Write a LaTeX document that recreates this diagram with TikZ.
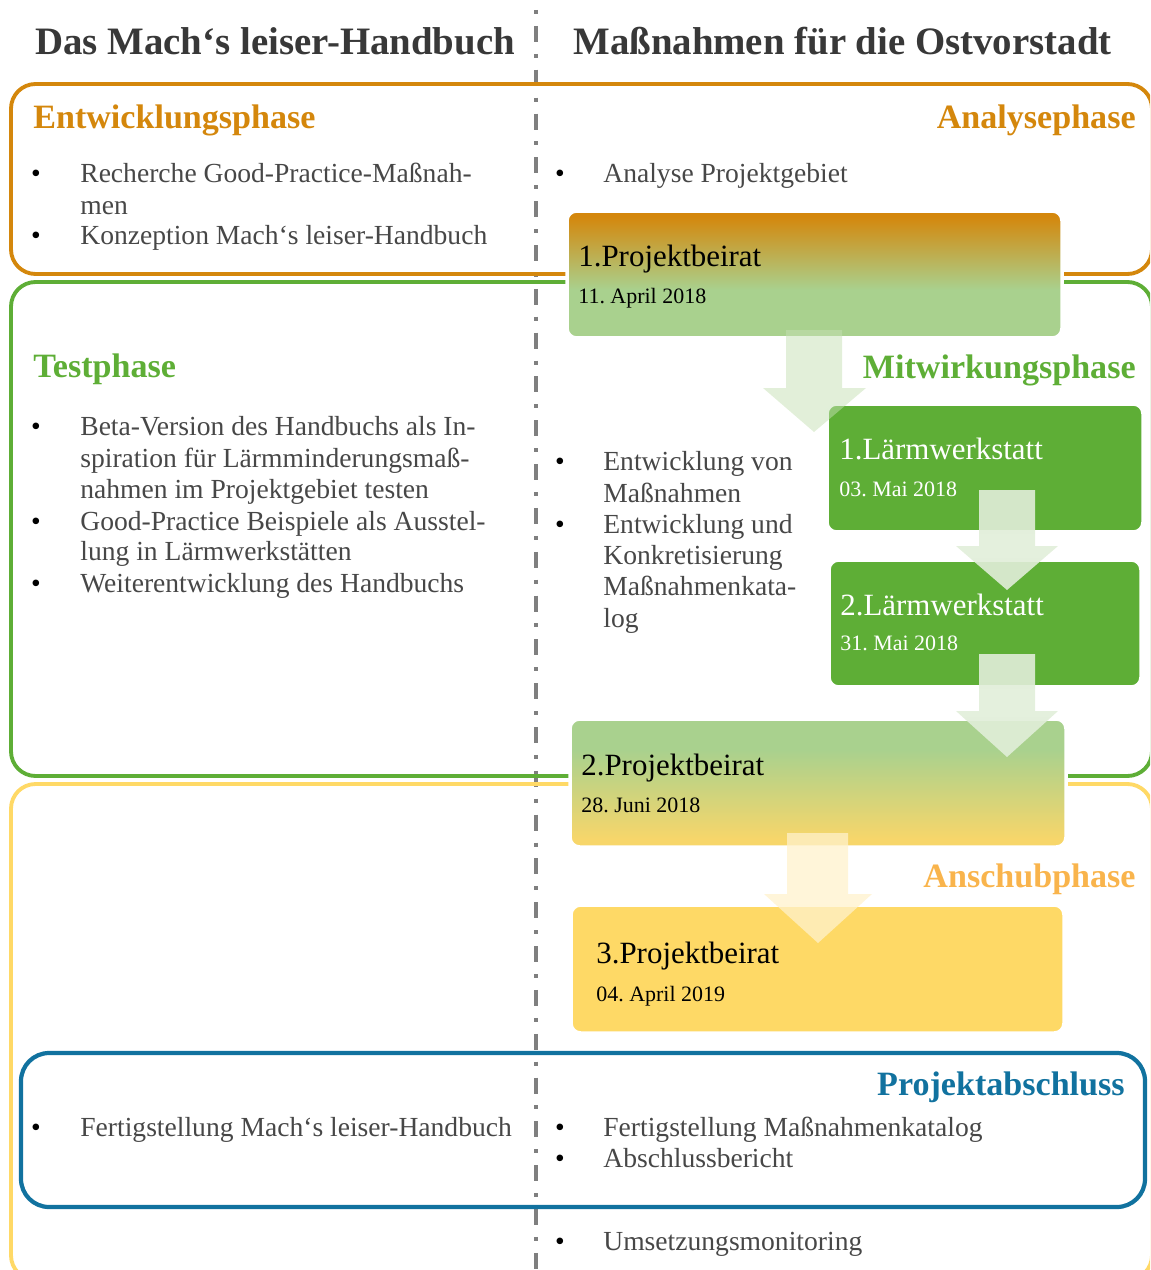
\documentclass[tikz,border=0pt]{standalone}
\usepackage{fontspec}
\setmainfont{Liberation Serif}
\usetikzlibrary{fit}
\frenchspacing
\definecolor{cOrange}{HTML}{D4870C}
\definecolor{cGreen}{HTML}{5EAE36}
\definecolor{cYellow}{HTML}{FFD966}
\definecolor{cAnschub}{HTML}{F9B44C}
\definecolor{cBlue}{HTML}{11729F}
\definecolor{cLGreen}{HTML}{A9D18E}
\definecolor{cBoxYellow}{HTML}{FED966}
\definecolor{cText}{HTML}{474747}
\definecolor{cTitle}{HTML}{383838}
\definecolor{cDash}{HTML}{7F7F7F}
\definecolor{cArrG}{HTML}{C5E0B4}
\definecolor{cArrGt}{HTML}{E1EED9}
\definecolor{cArrY}{HTML}{FFF2CC}
\definecolor{cBtwoY}{HTML}{F7D66A}
\pgfdeclareverticalshading{pbone}{100bp}{color(0bp)=(cLGreen); color(44bp)=(cLGreen); color(73bp)=(cOrange); color(100bp)=(cOrange)}
\pgfdeclareverticalshading{pbtwo}{100bp}{color(0bp)=(cBtwoY); color(28bp)=(cBtwoY); color(63bp)=(cLGreen); color(100bp)=(cLGreen)}
\tikzset{
  phasebox/.style={line width=2.2pt, rounded corners=14pt},
  tlbox/.style={inner sep=0pt, draw=white, line width=2pt, rounded corners=5.5pt},
  body/.style={anchor=base west, inner sep=0pt, text=cText, font=\fontsize{15.7}{18}\selectfont},
  bul/.style={anchor=base, inner sep=0pt, text=black, font=\fontsize{15.7}{18}\selectfont},
  ttl/.style={anchor=base west, inner sep=0pt, text=cTitle, font=\fontsize{22.1}{26}\selectfont\bfseries},
  phl/.style={anchor=base west, inner sep=0pt, font=\fontsize{19.4}{23}\selectfont\bfseries},
  phr/.style={phl, anchor=base east},
  bhead/.style={anchor=base west, inner sep=0pt, font=\fontsize{17.6}{21}\selectfont},
  bdate/.style={anchor=base west, inner sep=0pt, font=\fontsize{12.5}{15}\selectfont},
  arrg/.style={fill=cArrG, fill opacity=0.5, draw=none},
  arrgt/.style={fill=cArrGt, fill opacity=0.9, draw=none},
  arry/.style={fill=cArrY, fill opacity=0.75, draw=none}
}
\begin{document}
\begin{tikzpicture}[x=0.02cm,y=-0.02cm]
\useasboundingbox (0,0) rectangle (1150,1270);
\clip (0,0) rectangle (1150,1270);
% dashed divider
\coordinate (dtop) at (536,10);
\coordinate (dbot) at (536,1272);
\draw[cDash, line width=2.27pt, dash pattern=on 2.27pt off 6.8pt on 9.07pt off 6.8pt] (dtop) -- (dbot);
% phase frames
\draw[phasebox, cOrange] (11,84) rectangle (1152,274);
\draw[phasebox, cGreen] (11,282) rectangle (1152,776);
\draw[phasebox, cYellow] (11,784) rectangle (1152,1280);
\draw[phasebox, cBlue, line width=2.4pt, rounded corners=16pt] (21,1053) rectangle (1145,1207);
% titles
\node[ttl] (t1) at (35,55) {Das Mach‘s leiser-Handbuch};
\node[ttl] (t2) at (573,55) {Maßnahmen für die Ostvorstadt};
% phase labels
\node[phl, text=cOrange] (p1) at (33,129) {Entwicklungsphase};
\node[phr, text=cOrange] (p2) at (1136,129) {Analysephase};
\node[phl, text=cGreen] (p3) at (33,377) {Testphase};
\node[phr, text=cGreen] (p4) at (1136,378) {Mitwirkungsphase};
\node[phr, text=cAnschub] (p5) at (1136,887) {Anschubphase};
\node[phr, text=cBlue] (p6) at (1125,1095) {Projektabschluss};
% left column
\node[bul] (b1) at (36,183) {•};
\node[body] (l1) at (80,183) {Recherche Good-Practice-Maßnah-};
\node[body] (l2) at (80,215) {men};
\node[bul] (b2) at (36,245) {•};
\node[body] (l3) at (80,245) {Konzeption Mach‘s leiser-Handbuch};
\node[bul] (b3) at (36,435) {•};
\node[body] (l4) at (80,435) {Beta-Version des Handbuchs als In-};
\node[body] (l5) at (80,467) {spiration für Lärmminderungsmaß-};
\node[body] (l6) at (80,498) {nahmen im Projektgebiet testen};
\node[bul] (b4) at (36,530) {•};
\node[body] (l7) at (80,530) {Good-Practice Beispiele als Ausstel-};
\node[body] (l8) at (80,560) {lung in Lärmwerkstätten};
\node[bul] (b5) at (36,592) {•};
\node[body] (l9) at (80,592) {Weiterentwicklung des Handbuchs};
\node[bul] (b6) at (36,1136) {•};
\node[body] (l10) at (80,1136) {Fertigstellung Mach‘s leiser-Handbuch};
% right column
\node[bul] (rb1) at (560,183) {•};
\node[body] (r1) at (603,183) {Analyse Projektgebiet};
\node[bul] (rb2) at (560,470) {•};
\node[body] (r2) at (603,470) {Entwicklung von};
\node[body] (r3) at (603,502) {Maßnahmen};
\node[bul] (rb3) at (560,533) {•};
\node[body] (r4) at (603,533) {Entwicklung und};
\node[body] (r5) at (603,564) {Konkretisierung};
\node[body] (r6) at (603,595) {Maßnahmenkata-};
\node[body] (r7) at (603,627) {log};
\node[bul] (rb4) at (560,1136) {•};
\node[body] (r8) at (603,1136) {Fertigstellung Maßnahmenkatalog};
\node[bul] (rb5) at (560,1167) {•};
\node[body] (r9) at (603,1167) {Abschlussbericht};
\node[bul] (rb6) at (560,1250) {•};
\node[body] (r10) at (603,1250) {Umsetzungsmonitoring};
% timeline boxes
\node[tlbox, shade, shading=pbone, fit={(567,211) (1062,338)}] (pb1) {};
\node[tlbox, fill=cGreen, fit={(827,404) (1143,532)}] (lw1) {};
\node[tlbox, fill=cGreen, fit={(829,560) (1141,687)}] (lw2) {};
\node[tlbox, shade, shading=pbtwo, fit={(570,719) (1066,847)}] (pb2) {};
\node[tlbox, fill=cBoxYellow, fit={(571,905) (1064,1033)}] (pb3) {};
% timeline texts
\node[bhead] (pb1h) at (578,267) {1.Projektbeirat};
\node[bdate] (pb1d) at (578,303) {11. April 2018};
\node[bhead, text=white] (lw1h) at (839,459) {1.Lärmwerkstatt};
\node[bdate, text=white] (lw1d) at (839,496) {03. Mai 2018};
\node[bhead, text=white] (lw2h) at (840,615) {2.Lärmwerkstatt};
\node[bdate, text=white] (lw2d) at (840,650) {31. Mai 2018};
\node[bhead] (pb2h) at (581,775) {2.Projektbeirat};
\node[bdate] (pb2d) at (581,812) {28. Juni 2018};
\node[bhead] (pb3h) at (596,963) {3.Projektbeirat};
\node[bdate] (pb3d) at (596,1001) {04. April 2019};
% block arrows
\fill[arrg] (786,330) -- (842,330) -- (842,388) -- (866,388) -- (814,432) -- (763,388) -- (786,388) -- cycle;
\fill[arrgt] (979,490) -- (1035,490) -- (1035,546) -- (1058,546) -- (1007,590) -- (956,546) -- (979,546) -- cycle;
\fill[arrgt] (979,654) -- (1035,654) -- (1035,711) -- (1058,711) -- (1007,757) -- (956,711) -- (979,711) -- cycle;
\fill[arry] (787,833) -- (848,833) -- (848,894) -- (872,894) -- (818,943) -- (764,894) -- (787,894) -- cycle;
\end{tikzpicture}
\end{document}
